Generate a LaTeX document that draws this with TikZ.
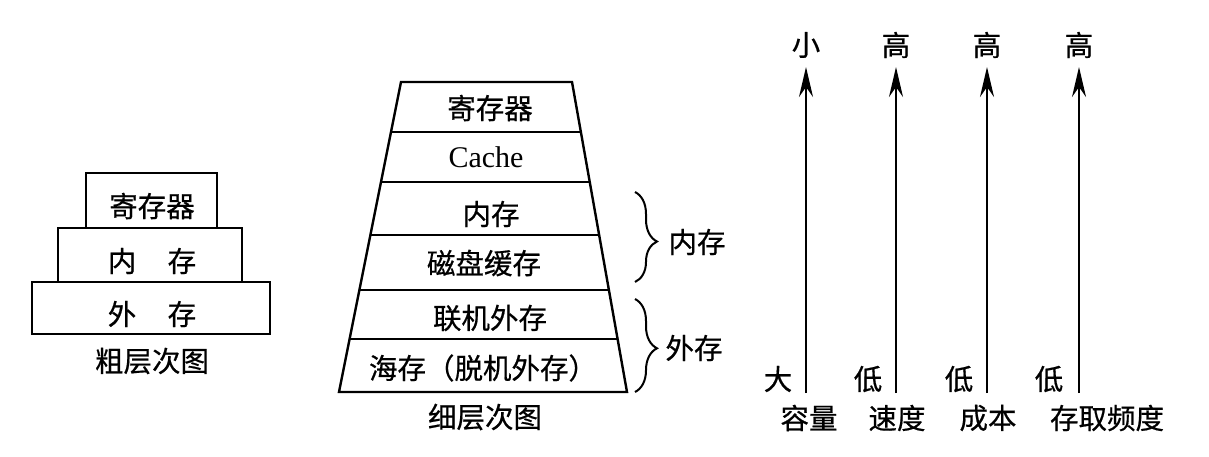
\documentclass[tikz,border=0pt]{standalone}
\usepackage{fontspec}
\setmainfont{Liberation Serif}
\newfontfamily\cjk[FakeBold=0.6]{Noto Sans CJK SC}
\usetikzlibrary{arrows.meta,decorations.pathreplacing,calc}
\begin{document}
\begin{tikzpicture}[x=1pt,y=-1pt,
  frame/.style={draw,line width=2.4pt,inner sep=0pt},
  zh/.style={font=\cjk\fontsize{28.5}{32}\selectfont,inner sep=0pt},
  en/.style={font=\fontsize{30}{34}\selectfont,inner sep=0pt},
  edge/.style={line width=2.4pt},
  up/.style={line width=2.4pt,-{Stealth[length=30pt,width=14pt,inset=10pt]}},
  br/.style={line width=2pt,decorate,decoration={brace,amplitude=22pt,aspect=0.55}}]
\useasboundingbox (0,0) rectangle (1209,456);
% ---------- left: coarse hierarchy ----------
\node[frame,minimum width=131,minimum height=55] (rbox) at (151.5,200.5) {};
\node[frame,minimum width=184,minimum height=54] (nbox) at (150,255) {};
\node[frame,minimum width=238,minimum height=52] (wbox) at (151,308) {};
\node[zh] (rtxt) at (152,206) {寄存器};
\node[zh] (ntxt) at (152,261) {内\hspace{1.1em}存};
\node[zh] (wtxt) at (152,314) {外\hspace{1.1em}存};
\node[zh] (cap1) at (152,361) {粗层次图};
% ---------- middle: fine hierarchy ----------
\coordinate (tl) at (401,82);
\coordinate (tr) at (572,82);
\coordinate (bl) at (339,392);
\coordinate (brr) at (627,392);
\draw[edge] (tl) -- (tr) -- (brr) -- (bl) -- cycle;
\foreach \t in {0.1613,0.3226,0.4935,0.671,0.829}
  \draw[edge] ($(tl)!\t!(bl)$) -- ($(tr)!\t!(brr)$);
\node[zh] (m1) at (490,108) {寄存器};
\node[en] (m2) at (486,157) {Cache};
\node[zh] (m3) at (491,214) {内存};
\node[zh] (m4) at (484,263) {磁盘缓存};
\node[zh] (m5) at (490,318) {联机外存};
\node[zh] (m6) at (483,368) {海存（脱机外存）};
\node[zh] (cap2) at (485,417) {细层次图};
\coordinate (b1s) at (635,192);
\coordinate (b1e) at (635,282);
\coordinate (b2s) at (635,299);
\coordinate (b2e) at (635,392);
\draw[br] (b1s) -- (b1e);
\draw[br,decoration={aspect=0.53}] (b2s) -- (b2e);
\node[zh] (lab1) at (697,242) {内存};
\node[zh] (lab2) at (694,348) {外存};
% ---------- right: trends ----------
\foreach \n/\x/\top/\low/\lx/\name/\nx in
  {1/806/小/大/778/容量/809,
   2/896/高/低/868/速度/897,
   3/987/高/低/959/成本/988,
   4/1079/高/低/1049/存取频度/1107}{
  \coordinate (s\n) at (\x,393);
  \coordinate (e\n) at (\x,67);
  \draw[up] (s\n) -- (e\n);
  \node[zh] (t\n) at (\x,45) {\top};
  \node[zh] (l\n) at (\lx,379) {\low};
  \node[zh] (q\n) at (\nx,418) {\name};
}
\end{tikzpicture}
\end{document}
